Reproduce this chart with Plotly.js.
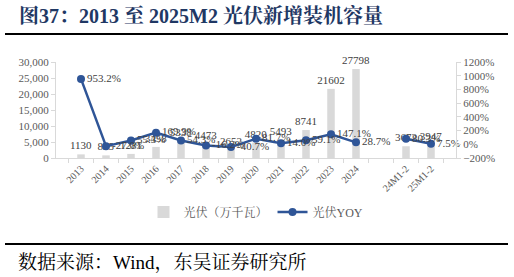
<!DOCTYPE html>
<html>
<head>
<meta charset="utf-8">
<script src="https://cdn.plot.ly/plotly-3.0.1.min.js"></script>
<style>html,body{margin:0;padding:0;background:#fff;}#chart{width:514px;height:277px;}</style>
</head>
<body>
<div id="chart"></div>
<script>
const categories = ["2013","2014","2015","2016","2017","2018","2019","2020","2021","2022","2023","2024"," ","24M1-2","25M1-2"];
const capacity = [1130, 825, 1281, 3458, 5338, 4473, 2652, 4820, 5493, 8741, 21602, 27798, null, 3672, 3947];
const yoy = [953.2, -27.0, 55.3, 169.9, 54.3, -16.2, -40.7, 81.7, 14.0, 59.1, 147.1, 28.7, null, 80.3, 7.5];
const barName = "光伏（万千瓦）";
const lineName = "光伏YOY";
const titleText = "图37：2013 至 2025M2 光伏新增装机容量";
const sourceText = "数据来源：Wind，东吴证券研究所";

const serif = "Liberation Serif, 'Times New Roman', 'Noto Serif CJK SC', 'Noto Sans CJK SC', serif";
const L = 56, R = 456, T = 62, B = 158, W = 514, H = 277;
const px = x => (x - L) / (R - L);
const py = y => (B - y) / (B - T);

const bars = {
  type: 'bar', x: categories, y: capacity, name: barName,
  marker: {color: '#d9d9d9'},
  text: capacity.map(v => v == null ? '' : String(v)),
  textposition: 'outside', constraintext: 'none', cliponaxis: false,
  textfont: {family: serif, size: 11, color: '#404040'},
  hoverinfo: 'none'
};
const line = {
  type: 'scatter', mode: 'lines+markers+text', x: categories, y: yoy, name: lineName,
  yaxis: 'y2', connectgaps: false, cliponaxis: false,
  line: {color: '#2f5597', width: 2.5},
  marker: {color: '#2f5597', size: 8},
  text: yoy.map(v => v == null ? '' : v.toFixed(1) + '%'),
  textposition: 'middle right',
  textfont: {family: serif, size: 11, color: '#404040'},
  hoverinfo: 'none'
};

const layout = {
  width: W, height: H,
  margin: {l: L, r: W - R, t: T, b: H - B},
  paper_bgcolor: '#fff', plot_bgcolor: '#fff',
  showlegend: true,
  bargap: 0.7,
  font: {family: serif, size: 11, color: '#595959'},
  xaxis: {
    type: 'category', tickangle: -45, showgrid: false,
    showline: true, linecolor: '#d9d9d9', linewidth: 1,
    ticks: 'outside', tickson: 'boundaries', ticklen: 4, tickcolor: '#d9d9d9',
    tickfont: {family: serif, size: 10, color: '#595959'},
    fixedrange: true
  },
  yaxis: {
    range: [0, 30000], dtick: 5000, tickformat: ',', showgrid: false, zeroline: false,
    showline: true, linecolor: '#d9d9d9', linewidth: 1,
    ticks: 'outside', ticklen: 4, tickcolor: '#d9d9d9',
    tickfont: {family: serif, size: 11, color: '#595959'}
  },
  yaxis2: {
    overlaying: 'y', side: 'right', range: [-200, 1200], dtick: 200, ticksuffix: '%',
    showgrid: false, zeroline: false,
    showline: true, linecolor: '#d9d9d9', linewidth: 1,
    ticks: 'outside', ticklen: 4, tickcolor: '#d9d9d9',
    tickfont: {family: serif, size: 11, color: '#595959'}
  },
  legend: {
    orientation: 'h', x: 0.5, xanchor: 'center', y: py(212), yanchor: 'middle',
    itemwidth: 30, tracegroupgap: 0,
    font: {family: serif, size: 12, color: '#595959'}, bgcolor: 'rgba(0,0,0,0)'
  },
  shapes: [
    {type: 'line', xref: 'paper', yref: 'paper', x0: px(5), x1: px(508), y0: py(34), y1: py(34), line: {color: '#000', width: 2}},
    {type: 'line', xref: 'paper', yref: 'paper', x0: px(5), x1: px(508), y0: py(244), y1: py(244), line: {color: '#000', width: 2}}
  ],
  annotations: [
    {xref: 'paper', yref: 'paper', x: px(17), y: py(15), xanchor: 'left', yanchor: 'middle', showarrow: false,
     text: '<b>' + titleText + '</b>', font: {family: serif, size: 20, color: '#1f3864'}},
    {xref: 'paper', yref: 'paper', x: px(16), y: py(262), xanchor: 'left', yanchor: 'middle', showarrow: false,
     text: sourceText, font: {family: serif, size: 19, color: '#000'}}
  ]
};

Plotly.newPlot('chart', [bars, line], layout, {displayModeBar: false, staticPlot: true});
</script>
</body>
</html>
